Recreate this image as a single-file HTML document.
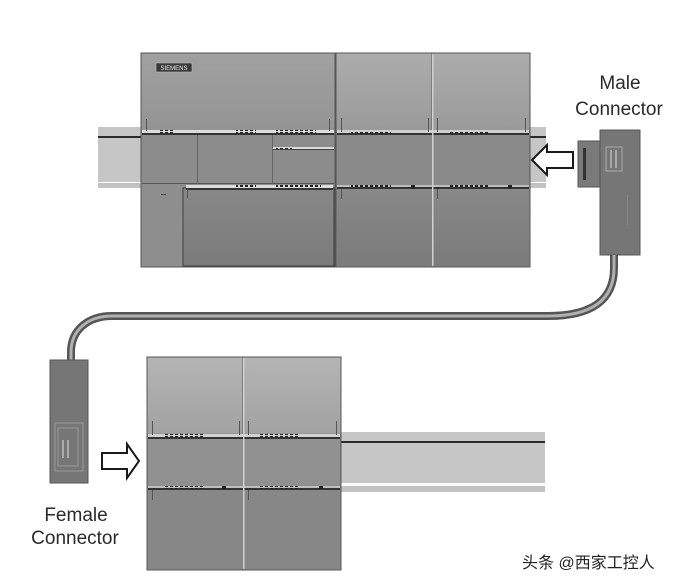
<!DOCTYPE html>
<html><head><meta charset="utf-8"><style>
html,body{margin:0;padding:0;background:#fff;}
svg{display:block;}
text{font-family:"Liberation Sans","Noto Sans CJK SC",sans-serif;}
</style></head><body>
<svg width="678" height="586" viewBox="0 0 678 586" xmlns="http://www.w3.org/2000/svg">
<defs>
<linearGradient id="lidA" x1="0" y1="0" x2="0" y2="1"><stop offset="0" stop-color="#a0a0a0"/><stop offset="1" stop-color="#949494"/></linearGradient>
<linearGradient id="lidB" x1="0" y1="0" x2="0" y2="1"><stop offset="0" stop-color="#acacac"/><stop offset="1" stop-color="#9a9a9a"/></linearGradient>
<linearGradient id="lidC" x1="0" y1="0" x2="0" y2="1"><stop offset="0" stop-color="#b4b4b4"/><stop offset="1" stop-color="#a2a2a2"/></linearGradient>
<linearGradient id="low" x1="0" y1="0" x2="0" y2="1"><stop offset="0" stop-color="#888"/><stop offset="1" stop-color="#7b7b7b"/></linearGradient>
<pattern id="dots" x="0" y="0" width="5" height="4" patternUnits="userSpaceOnUse"><rect x="0" y="0" width="3" height="3" fill="#222"/></pattern>
</defs>

<!-- top rail -->
<rect x="98" y="127" width="44" height="55" fill="#c6c6c6"/>
<rect x="98" y="136" width="44" height="2" fill="#2a2a2a"/>
<rect x="98" y="183" width="44" height="5" fill="#c2c2c2"/>
<rect x="530" y="127" width="16" height="55" fill="#c6c6c6"/>
<rect x="530" y="136" width="16" height="2" fill="#2a2a2a"/>
<rect x="530" y="183" width="16" height="5" fill="#c2c2c2"/>

<!-- CPU -->
<rect x="141" y="53" width="194" height="214" fill="#909090" stroke="#555" stroke-width="1"/>
<rect x="141.5" y="53.5" width="193" height="77" fill="url(#lidA)"/>
<rect x="156" y="63" width="36" height="9" fill="#3a3a3a" stroke="#bbb" stroke-width="0.6"/>
<text x="174" y="70" font-size="6" fill="#eee" text-anchor="middle">SIEMENS</text>
<rect x="142" y="130" width="192" height="3" fill="#dcdcdc"/>
<rect x="142" y="133" width="192" height="2" fill="#333"/>
<rect x="159" y="130" width="14" height="3" fill="url(#dots)"/>
<rect x="236" y="130" width="20" height="3" fill="url(#dots)"/>
<rect x="276" y="130" width="40" height="3" fill="url(#dots)"/>
<rect x="146" y="119" width="1" height="12" fill="#555"/>
<rect x="329" y="119" width="1" height="12" fill="#555"/>
<rect x="142" y="135" width="192" height="48" fill="#8c8c8c"/>
<rect x="197" y="135" width="1" height="48" fill="#666"/>
<rect x="272" y="135" width="1" height="48" fill="#666"/>
<rect x="273" y="147" width="61" height="2" fill="#dadada"/>
<rect x="273" y="149" width="61" height="1" fill="#444"/>
<rect x="276" y="147" width="16" height="2" fill="url(#dots)"/>
<rect x="142" y="183" width="41" height="83" fill="#8e8e8e"/>
<rect x="142" y="183" width="192" height="1" fill="#555"/>
<rect x="161" y="194" width="5" height="1" fill="#444"/>
<rect x="183" y="188" width="151" height="78" fill="url(#low)" stroke="#3e3e3e" stroke-width="1"/>
<rect x="186" y="185" width="147" height="3" fill="#dcdcdc"/>
<rect x="186" y="188" width="147" height="2" fill="#333"/>
<rect x="236" y="185" width="20" height="3" fill="url(#dots)"/>
<rect x="276" y="185" width="45" height="3" fill="url(#dots)"/>
<rect x="187" y="188" width="1" height="10" fill="#555"/>

<!-- expansion modules top -->
<g>
<rect x="336" y="53" width="96" height="214" fill="#888" stroke="#555"/>
<rect x="432" y="53" width="98" height="214" fill="#888" stroke="#555"/>
<rect x="336.5" y="53.5" width="95" height="77" fill="url(#lidB)"/>
<rect x="432.5" y="53.5" width="97" height="77" fill="url(#lidB)"/>
<rect x="337" y="130" width="192" height="3" fill="#cfcfcf"/>
<rect x="337" y="133" width="192" height="2" fill="#333"/>
<rect x="351" y="131" width="40" height="3" fill="url(#dots)"/>
<rect x="448" y="131" width="40" height="3" fill="url(#dots)"/>
<rect x="341" y="118" width="1" height="14" fill="#555"/>
<rect x="428" y="118" width="1" height="14" fill="#555"/>
<rect x="437" y="118" width="1" height="14" fill="#555"/>
<rect x="525" y="118" width="1" height="14" fill="#555"/>
<rect x="337" y="135" width="192" height="50" fill="#8a8a8a"/>
<rect x="337" y="185" width="192" height="2" fill="#bdbdbd"/>
<rect x="337" y="187" width="192" height="2" fill="#333"/>
<rect x="351" y="185" width="40" height="3" fill="url(#dots)"/>
<rect x="411" y="185" width="4" height="3" fill="#222"/>
<rect x="448" y="185" width="40" height="3" fill="url(#dots)"/>
<rect x="508" y="185" width="4" height="3" fill="#222"/>
<rect x="337" y="189" width="192" height="77" fill="url(#low)"/>
<rect x="341" y="189" width="1" height="10" fill="#555"/>
<rect x="437" y="189" width="1" height="10" fill="#555"/>
<rect x="432" y="54" width="1.5" height="212" fill="#d0d0d0"/>
</g>

<!-- left arrow -->
<polygon points="532,160 547,145 547,152 573,152 573,168 547,168 547,175" fill="#fff" stroke="#1a1a1a" stroke-width="2" stroke-linejoin="miter"/>

<!-- male connector -->
<rect x="578" y="141" width="22" height="46" fill="#7a7a7a" stroke="#555"/>
<rect x="583" y="148" width="3" height="32" fill="#333"/>
<rect x="600" y="130" width="40" height="125" fill="#767676" stroke="#555"/>
<rect x="606" y="147" width="16" height="24" fill="none" stroke="#aaa" stroke-width="1"/>
<rect x="610" y="150" width="2" height="18" fill="#aaa"/>
<rect x="615" y="150" width="2" height="18" fill="#aaa"/>
<rect x="627" y="195" width="1" height="30" fill="#888"/>

<!-- cable -->
<path d="M614 255 L614 268 C614 300 592 316 548 316 L112 316 C88 316 71 330 71 352 L71 362" fill="none" stroke="#555" stroke-width="8"/>
<path d="M614 255 L614 268 C614 300 592 316 548 316 L112 316 C88 316 71 330 71 352 L71 362" fill="none" stroke="#b0b0b0" stroke-width="3"/>

<!-- female connector -->
<rect x="50" y="360" width="38" height="123" fill="#767676" stroke="#555"/>
<rect x="55" y="423" width="28" height="48" fill="none" stroke="#9a9a9a" stroke-width="1"/>
<rect x="58" y="428" width="20" height="38" fill="none" stroke="#9a9a9a" stroke-width="1"/>
<rect x="62" y="440" width="2" height="18" fill="#aaa"/>
<rect x="67" y="440" width="2" height="18" fill="#aaa"/>

<!-- right arrow -->
<polygon points="102,453 127,453 127,444 139,461 127,478 127,469 102,469" fill="#fff" stroke="#1a1a1a" stroke-width="2"/>

<!-- lower rail -->
<rect x="341" y="432" width="204" height="51" fill="#c6c6c6"/>
<rect x="341" y="441" width="204" height="2" fill="#2a2a2a"/>
<rect x="341" y="486" width="204" height="6" fill="#c2c2c2"/>

<!-- lower modules -->
<rect x="147" y="357" width="96" height="213" fill="#8a8a8a" stroke="#555"/>
<rect x="243" y="357" width="98" height="213" fill="#8a8a8a" stroke="#555"/>
<rect x="147.5" y="357.5" width="95" height="76" fill="url(#lidC)"/>
<rect x="243.5" y="357.5" width="97" height="76" fill="url(#lidC)"/>
<rect x="148" y="434" width="192" height="3" fill="#d2d2d2"/>
<rect x="148" y="437" width="192" height="2" fill="#333"/>
<rect x="163" y="434" width="40" height="3" fill="url(#dots)"/>
<rect x="260" y="434" width="40" height="3" fill="url(#dots)"/>
<rect x="152" y="421" width="1" height="14" fill="#555"/>
<rect x="239" y="421" width="1" height="14" fill="#555"/>
<rect x="248" y="421" width="1" height="14" fill="#555"/>
<rect x="336" y="421" width="1" height="14" fill="#555"/>
<rect x="148" y="439" width="192" height="47" fill="#909090"/>
<rect x="148" y="486" width="192" height="2" fill="#bdbdbd"/>
<rect x="148" y="488" width="192" height="2" fill="#333"/>
<rect x="163" y="486" width="40" height="3" fill="url(#dots)"/>
<rect x="222" y="486" width="4" height="3" fill="#222"/>
<rect x="260" y="486" width="40" height="3" fill="url(#dots)"/>
<rect x="319" y="486" width="4" height="3" fill="#222"/>
<rect x="148" y="490" width="192" height="79" fill="#878787"/>
<rect x="152" y="490" width="1" height="10" fill="#555"/>
<rect x="248" y="490" width="1" height="10" fill="#555"/>
<rect x="243" y="358" width="1.5" height="211" fill="#d0d0d0"/>

<!-- labels -->
<text x="620" y="89" font-size="19" fill="#2a2a2a" text-anchor="middle">Male</text>
<text x="619" y="115" font-size="19" fill="#2a2a2a" text-anchor="middle">Connector</text>
<text x="76" y="521" font-size="19" fill="#2a2a2a" text-anchor="middle">Female</text>
<text x="75" y="544" font-size="19" fill="#2a2a2a" text-anchor="middle">Connector</text>
<text x="523" y="569" font-size="16" fill="#fff" stroke="#fff" stroke-width="2">头条 @西家工控人</text>
<text x="522" y="568" font-size="16" fill="#222">头条 @西家工控人</text>
</svg>
</body></html>
